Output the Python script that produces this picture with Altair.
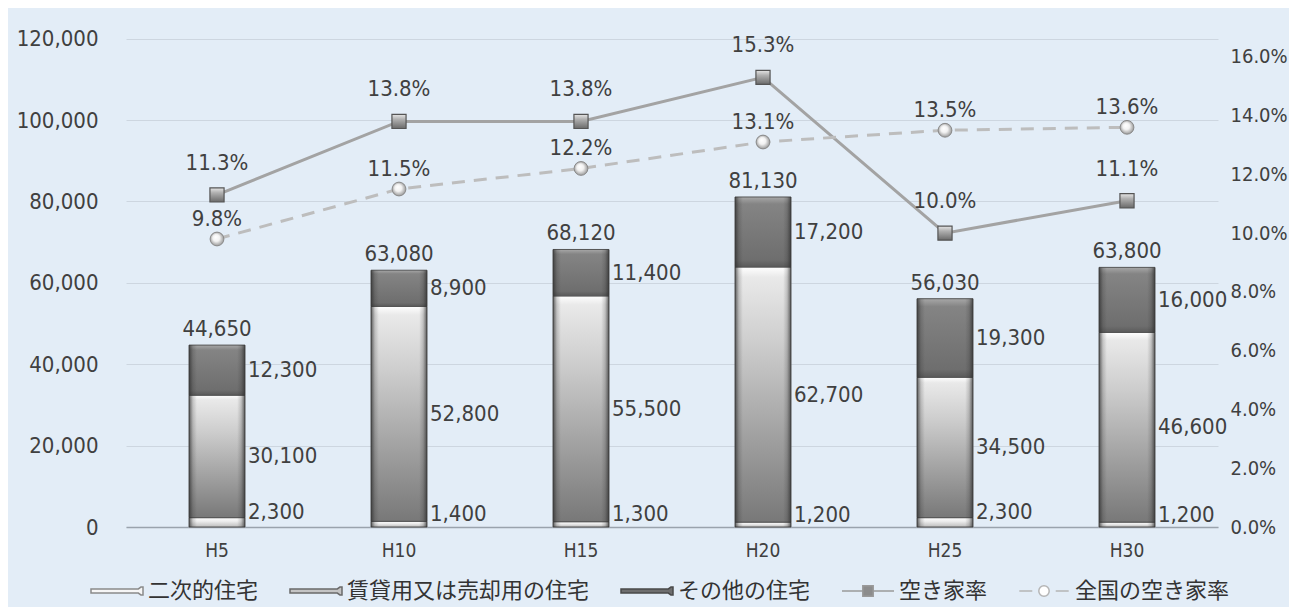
import altair as alt
import pandas as pd

# ---------------- data ----------------
years = ["H5", "H10", "H15", "H20", "H25", "H30"]
secondary = [2300, 1400, 1300, 1200, 2300, 1200]          # 二次的住宅
rental = [30100, 52800, 55500, 62700, 34500, 46600]       # 賃貸用又は売却用の住宅
other = [12300, 8900, 11400, 17200, 19300, 16000]         # その他の住宅
totals = [44650, 63080, 68120, 81130, 56030, 63800]       # 合計ラベル
rate_local = [0.113, 0.138, 0.138, 0.153, 0.100, 0.111]   # 空き家率
rate_national = [0.098, 0.115, 0.122, 0.131, 0.135, 0.136]  # 全国の空き家率
bar_series = ["二次的住宅", "賃貸用又は売却用の住宅", "その他の住宅"]
line_series = ["空き家率", "全国の空き家率"]
left_ticks = [0, 20000, 40000, 60000, 80000, 100000, 120000]
right_ticks = [0.0, 0.02, 0.04, 0.06, 0.08, 0.10, 0.12, 0.14, 0.16, 0.18]

# ---------------- tables ----------------
rows = []
for i, yr in enumerate(years):
    lo = 0
    for name, vals in zip(bar_series, [secondary, rental, other]):
        v = vals[i]
        rows.append({"year": yr, "series": name, "value": v,
                     "lo": lo, "hi": lo + v, "mid": lo + v / 2})
        lo += v
bars_df = pd.DataFrame(rows)
tot_df = pd.DataFrame({
    "year": years,
    "total": totals,
    "top": [a + b + c for a, b, c in zip(secondary, rental, other)],
    "base": [0] * len(years),
})
rate_df = pd.DataFrame({
    "year": years + years,
    "series": [line_series[0]] * len(years) + [line_series[1]] * len(years),
    "rate": rate_local + rate_national,
})
legend_df = pd.DataFrame({"series": bar_series + line_series})

# ---------------- styling ----------------
BG = "#E3EDF7"
NUM_FONT = "'DejaVu Sans Condensed', 'Liberation Sans Narrow', 'Roboto Condensed', Roboto, sans-serif"
CJK_FONT = "Noto Sans CJK JP"
TXT = "#404040"
FS = 22


def vgrad(stops):
    return alt.LinearGradient(
        gradient="linear",
        stops=[alt.GradientStop(color=c, offset=o) for o, c in stops],
        x1=0, x2=0, y1=0, y2=1)


def hgrad(stops):
    return alt.LinearGradient(
        gradient="linear",
        stops=[alt.GradientStop(color=c, offset=o) for o, c in stops],
        x1=0, x2=1, y1=0, y2=0)


seg_fill = {
    "二次的住宅": vgrad([(0, "#ffffff"), (0.4, "#ececec"), (1, "#bdbdbd")]),
    "賃貸用又は売却用の住宅": vgrad([(0, "#ffffff"), (0.04, "#e9e9e9"),
                               (0.3, "#cdcdcd"), (1, "#787878")]),
    "その他の住宅": vgrad([(0, "#a8a8a8"), (0.1, "#848484"), (0.9, "#6e6e6e"),
                      (1, "#5a5a5a")]),
}
edge_fill = hgrad([(0, "rgba(45,45,45,0.75)"), (0.07, "rgba(45,45,45,0.2)"),
                   (0.14, "rgba(45,45,45,0)"), (0.86, "rgba(45,45,45,0)"),
                   (0.93, "rgba(45,45,45,0.2)"), (1, "rgba(45,45,45,0.75)")])

x_enc = alt.X("year:N", sort=years,
              scale=alt.Scale(paddingInner=0, paddingOuter=0),
              axis=alt.Axis(title=None, labelAngle=0, labelFont=NUM_FONT,
                            labelFontSize=19, labelColor=TXT, labelPadding=14,
                            ticks=False, domain=True, domainColor="#9aa3ad",
                            domainWidth=1.5, grid=False))

y_scale = alt.Scale(domain=[0, 130000], nice=False, zero=True)
y_axis = alt.Axis(title=None, orient="left", values=left_ticks, format=",d",
                  labelFont=NUM_FONT, labelFontSize=FS, labelColor=TXT,
                  labelPadding=28, ticks=False, domain=False, grid=True,
                  gridColor="#cdd6e0", gridWidth=1)


def yb(field):
    return alt.Y(field, type="quantitative", scale=y_scale, axis=y_axis)


r_scale = alt.Scale(domain=[0, 0.18], nice=False, zero=True)
r_axis = alt.Axis(title=None, orient="right", values=right_ticks, format=".1%",
                  labelFont=NUM_FONT, labelFontSize=20, labelColor=TXT,
                  labelPadding=12, ticks=False, domain=False, grid=False)


def yr(field):
    return alt.Y(field, type="quantitative", scale=r_scale, axis=r_axis)


# ---------------- bars ----------------
bar_layers = []
for name in bar_series:
    bar_layers.append(
        alt.Chart(bars_df).transform_filter(alt.datum.series == name)
        .mark_bar(size=56, fill=seg_fill[name], stroke="#555555", strokeWidth=1)
        .encode(x=x_enc, y=yb("hi"), y2=alt.Y2("lo"))
    )

edges = alt.Chart(tot_df).mark_bar(size=56, fill=edge_fill).encode(
    x=x_enc, y=yb("top"), y2=alt.Y2("base"))

seg_labels_low = (
    alt.Chart(bars_df).transform_filter(alt.datum.series == bar_series[0])
    .mark_text(align="left", baseline="middle", dx=31, dy=-10,
               font=NUM_FONT, fontSize=FS, color=TXT)
    .encode(x=x_enc, y=yb("mid"), text=alt.Text("value:Q", format=",d"))
)
seg_labels = (
    alt.Chart(bars_df).transform_filter(alt.datum.series != bar_series[0])
    .mark_text(align="left", baseline="middle", dx=31,
               font=NUM_FONT, fontSize=FS, color=TXT)
    .encode(x=x_enc, y=yb("mid"), text=alt.Text("value:Q", format=",d"))
)
tot_labels = (
    alt.Chart(tot_df)
    .mark_text(align="center", baseline="alphabetic", dy=-9,
               font=NUM_FONT, fontSize=FS, color=TXT)
    .encode(x=x_enc, y=yb("top"), text=alt.Text("total:Q", format=",d"))
)

bar_group = alt.layer(*bar_layers, edges, seg_labels_low, seg_labels, tot_labels)

# ---------------- lines ----------------
local_df_filter = alt.datum.series == line_series[0]
nat_df_filter = alt.datum.series == line_series[1]

local_line = (alt.Chart(rate_df).transform_filter(local_df_filter)
              .mark_line(color="#a3a3a3", strokeWidth=3)
              .encode(x=x_enc, y=yr("rate")))
nat_line = (alt.Chart(rate_df).transform_filter(nat_df_filter)
            .mark_line(color="#bdbdbd", strokeWidth=3, strokeDash=[13, 9])
            .encode(x=x_enc, y=yr("rate")))

sq_fill = vgrad([(0, "#e6e6e6"), (0.35, "#b0b0b0"), (1, "#6a6a6a")])
local_pts = (alt.Chart(rate_df).transform_filter(local_df_filter)
             .mark_point(shape="square", filled=True, size=200, fill=sq_fill,
                         stroke="#555555", strokeWidth=1.2, opacity=1)
             .encode(x=x_enc, y=yr("rate")))
circ_fill = alt.RadialGradient(
    gradient="radial",
    stops=[alt.GradientStop(color="#ffffff", offset=0),
           alt.GradientStop(color="#f2f2f2", offset=0.45),
           alt.GradientStop(color="#8c8c8c", offset=1)],
    x1=0.4, y1=0.35, r1=0, x2=0.5, y2=0.5, r2=0.55)
nat_pts = (alt.Chart(rate_df).transform_filter(nat_df_filter)
           .mark_point(shape="circle", filled=True, size=190, fill=circ_fill,
                       stroke="#8a8a8a", strokeWidth=1, opacity=1)
           .encode(x=x_enc, y=yr("rate")))

local_lbl = (alt.Chart(rate_df).transform_filter(local_df_filter)
             .mark_text(align="center", baseline="middle", dy=-32,
                        font=NUM_FONT, fontSize=FS, color=TXT)
             .encode(x=x_enc, y=yr("rate"), text=alt.Text("rate:Q", format=".1%")))
nat_lbl = (alt.Chart(rate_df).transform_filter(nat_df_filter)
           .mark_text(align="center", baseline="middle", dy=-20,
                      font=NUM_FONT, fontSize=FS, color=TXT)
           .encode(x=x_enc, y=yr("rate"), text=alt.Text("rate:Q", format=".1%")))

line_group = alt.layer(local_line, nat_line, local_pts, nat_pts, local_lbl, nat_lbl)

# ---------------- legend (symbols only, no marks) ----------------
leg_domain = bar_series + line_series
bar_sym = "M-1,-0.08H0.82L0.92,-0.15H1V0.15H0.92L0.82,0.08H-1Z"
local_sym = "M-1,0H-0.22M0.22,0H1M-0.2,-0.2H0.2V0.2H-0.2Z"
nat_sym = ("M-0.95,0H-0.45M0.45,0H0.95"
           "M0.2,0A0.2,0.2,0,1,1,-0.2,0A0.2,0.2,0,1,1,0.2,0Z")
leg = alt.Legend(orient="none", legendX=-36, legendY=566, direction="horizontal",
                 columns=5, title=None, labelFont=CJK_FONT, labelFontSize=22,
                 labelColor="#333333", symbolSize=2704, symbolStrokeWidth=1.5,
                 columnPadding=28, labelOffset=4, padding=0, labelLimit=400)
legend_layer = (
    alt.Chart(legend_df).transform_filter("false")
    .mark_point(filled=True, opacity=1)
    .encode(
        fill=alt.Fill("series:N", scale=alt.Scale(
            domain=leg_domain,
            range=["#f6f6f6", "#c4c4c4", "#6e6e6e", "#8c8c8c", "#ffffff"]),
            legend=leg),
        stroke=alt.Stroke("series:N", scale=alt.Scale(
            domain=leg_domain,
            range=["#8a8a8a", "#6a6a6a", "#4a4a4a", "#9a9a9a", "#b5b5b5"]),
            legend=leg),
        shape=alt.Shape("series:N", scale=alt.Scale(
            domain=leg_domain,
            range=[bar_sym, bar_sym, bar_sym, local_sym, nat_sym]),
            legend=leg),
    )
)

chart = (
    alt.layer(bar_group, line_group, legend_layer)
    .resolve_scale(y="independent")
    .properties(width=1092, height=529, background=BG,
                padding={"left": 118, "top": -10, "right": 71, "bottom": 80},
                autosize=alt.AutoSizeParams(type="none"))
    .configure_view(stroke=None, fill=BG)
)

chart.save("out.html", embed_options={"renderer": "svg", "actions": False})
